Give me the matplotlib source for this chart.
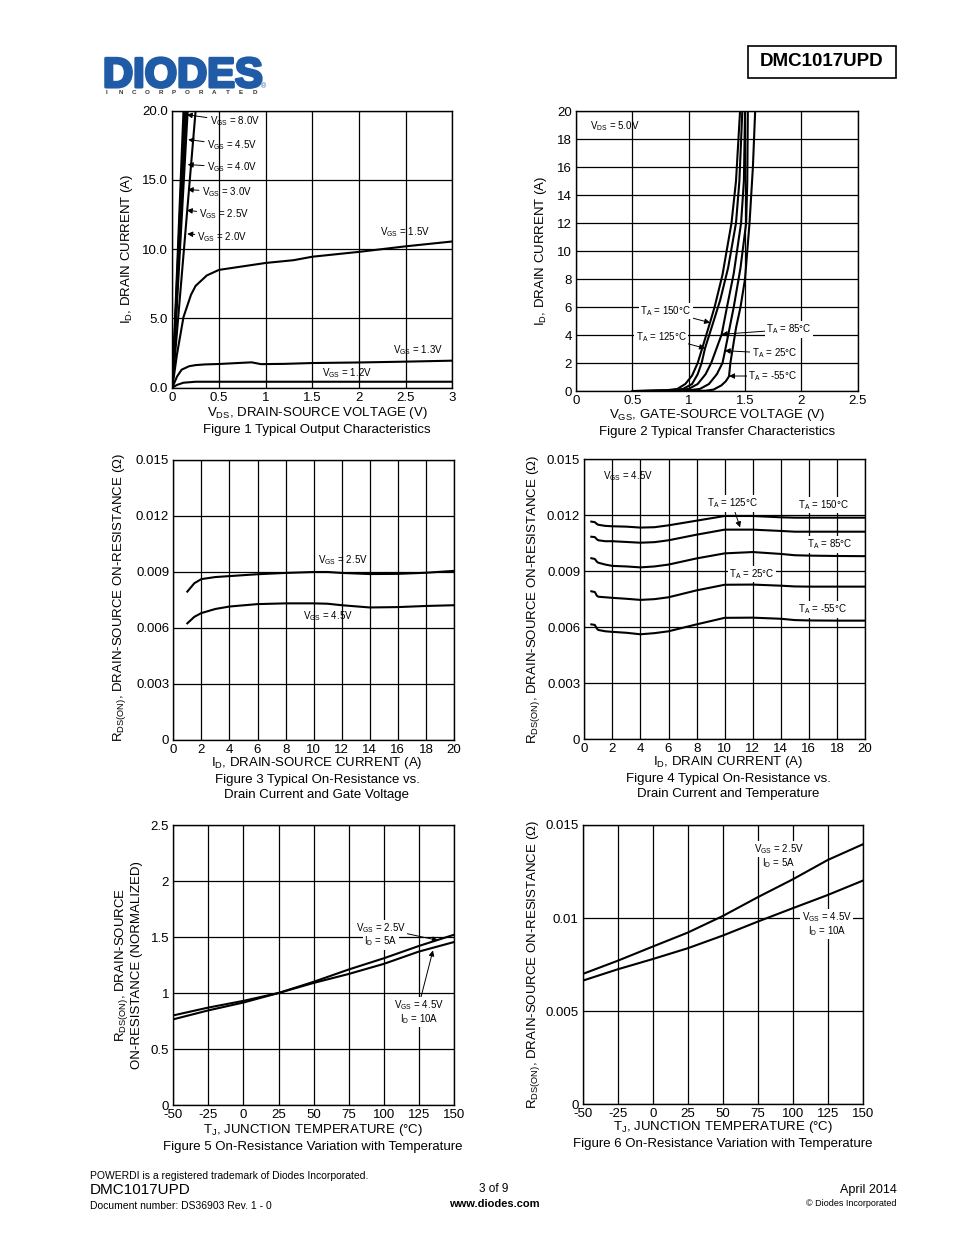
import matplotlib
matplotlib.use('Agg')
import matplotlib.pyplot as plt
import matplotlib.patheffects as pe
from matplotlib.patches import Rectangle

plt.rcParams['font.family'] = ['Liberation Sans', 'DejaVu Sans']
plt.rcParams['mathtext.default'] = 'regular'

W, H = 954, 1235

# ---------------- data ----------------
# Figure 1 - output characteristics
f1_v12_x = [0, 0.05, 0.12, 0.25, 0.5, 1.0, 2.0, 3.0]
f1_v12_y = [0, 0.2, 0.36, 0.43, 0.43, 0.43, 0.43, 0.43]
f1_v13_x = [0, 0.05, 0.1, 0.18, 0.25, 0.35, 0.5, 0.7, 0.85, 0.95, 1.2, 1.5, 2.0, 2.5, 3.0]
f1_v13_y = [0, 0.8, 1.3, 1.55, 1.63, 1.68, 1.71, 1.78, 1.83, 1.7, 1.72, 1.78, 1.82, 1.88, 1.95]
f1_v15_x = [0, 0.05, 0.12, 0.2, 0.25, 0.37, 0.5, 0.7, 1.0, 1.3, 1.5, 2.0, 2.5, 3.0]
f1_v15_y = [0, 2.4, 5.1, 6.7, 7.35, 8.1, 8.5, 8.7, 9.0, 9.2, 9.45, 9.8, 10.2, 10.55]
f1_steep_vgs = ['2.0', '2.5', '3.0', '4.0', '4.5', '8.0']
f1_steep_vend = [0.25, 0.165, 0.15, 0.14, 0.13, 0.12]

# Figure 2 - transfer characteristics
f2_temps = ['150', '125', '85', '25', '-55']
f2_vgs = [
    [0.5, 0.8, 0.9, 0.97, 1.03, 1.08, 1.19, 1.23, 1.30, 1.38, 1.42, 1.456],
    [0.55, 0.85, 0.95, 1.03, 1.08, 1.115, 1.145, 1.21, 1.28, 1.35, 1.42, 1.45, 1.476],
    [0.6, 0.9, 1.0, 1.08, 1.15, 1.20, 1.293, 1.34, 1.40, 1.465, 1.49, 1.50],
    [0.7, 1.0, 1.1, 1.18, 1.25, 1.30, 1.32, 1.40, 1.46, 1.51, 1.52, 1.525],
    [0.9, 1.15, 1.22, 1.29, 1.33, 1.358, 1.37, 1.42, 1.46, 1.50, 1.54, 1.57, 1.59],
]
f2_id = [
    [0, 0.05, 0.15, 0.5, 1.1, 2.0, 4.9, 6.0, 8.3, 12, 15, 20],
    [0, 0.05, 0.15, 0.5, 1.2, 2.0, 3.05, 4.7, 6.5, 8.8, 12, 15, 20],
    [0, 0.05, 0.15, 0.5, 1.2, 2.0, 4.05, 6.0, 8.4, 12, 15, 20],
    [0, 0.05, 0.15, 0.5, 1.2, 2.0, 2.76, 6.0, 8.8, 12, 15, 20],
    [0, 0.02, 0.1, 0.4, 0.7, 1.05, 2.0, 4.5, 6.0, 8.0, 12, 16, 20],
]

# Figure 3 - Rds(on) vs Id and Vgs
f3_id = [1, 1.5, 2, 3, 4, 6, 8, 10, 11, 12, 14, 16, 18, 20]
f3_r25 = [0.00795, 0.0084, 0.00862, 0.00873, 0.00878, 0.00888, 0.00895, 0.009, 0.009, 0.00895, 0.00889, 0.0089, 0.00896, 0.00906]
f3_r45 = [0.00625, 0.0066, 0.0068, 0.00702, 0.00715, 0.00728, 0.00732, 0.00732, 0.0073, 0.00722, 0.0071, 0.00712, 0.00718, 0.00722]

# Figure 4 - Rds(on) vs Id and temperature
f4_id = [0.5, 0.75, 0.9, 1.0, 1.5, 2, 3, 4, 5, 6, 8, 10, 12, 14, 15, 16, 18, 20]
f4_r150 = [0.01165, 0.01162, 0.01152, 0.01148, 0.01142, 0.0114, 0.01138, 0.01133, 0.01135, 0.01145, 0.0117, 0.01195, 0.01195, 0.01188, 0.01186, 0.01186, 0.01186, 0.01186]
f4_r125 = [0.01084, 0.01082, 0.0107, 0.01065, 0.0106, 0.0106, 0.01056, 0.01052, 0.01055, 0.01065, 0.01095, 0.01122, 0.01122, 0.01115, 0.01111, 0.01111, 0.01111, 0.01111]
f4_r85 = [0.00969, 0.00965, 0.0095, 0.00945, 0.00935, 0.00928, 0.00925, 0.0092, 0.00925, 0.00935, 0.00968, 0.00995, 0.01002, 0.00992, 0.00985, 0.00983, 0.00981, 0.0098]
f4_r25 = [0.00792, 0.00788, 0.00768, 0.00763, 0.0076, 0.00757, 0.00752, 0.00746, 0.0075, 0.0076, 0.00797, 0.00827, 0.00828, 0.00822, 0.00818, 0.00817, 0.00817, 0.00817]
f4_rm55 = [0.00615, 0.00612, 0.00592, 0.00585, 0.00578, 0.00575, 0.0057, 0.00562, 0.00568, 0.00578, 0.00615, 0.0065, 0.00651, 0.00645, 0.00638, 0.00636, 0.00635, 0.00635]

# Figure 5 / 6 - Rds(on) vs junction temperature
tj = [-50, -25, 0, 25, 50, 75, 100, 125, 150]
f5_n25 = [0.765, 0.845, 0.915, 1.0, 1.10, 1.21, 1.31, 1.42, 1.52]
f5_n45 = [0.80, 0.87, 0.93, 1.0, 1.09, 1.17, 1.26, 1.37, 1.455]
f6_r25 = [0.0070, 0.00771, 0.00847, 0.00922, 0.01011, 0.01112, 0.01208, 0.01312, 0.01396]
f6_r45 = [0.00664, 0.00725, 0.0078, 0.00838, 0.00906, 0.00981, 0.01053, 0.01124, 0.01201]

# ---------------- figure ----------------
fig = plt.figure(figsize=(W / 100, H / 100), dpi=100)
fig.patch.set_facecolor('white')


def axbox(l, t, r, b):
    return fig.add_axes([l / W, 1 - b / H, (r - l) / W, (b - t) / H])


def ftext(x, y, s, **kw):
    kw.setdefault('fontsize', 9.5)
    return fig.text(x / W, 1 - y / H, s, **kw)


def style(ax, xt, xl, yt, yl):
    ax.set_xticks(xt)
    ax.set_xticklabels(xl)
    ax.set_yticks(yt)
    ax.set_yticklabels(yl)
    ax.set_xlim(xt[0], xt[-1])
    ax.set_ylim(yt[0], yt[-1])
    ax.grid(True, color='black', lw=0.9)
    ax.set_axisbelow(True)
    ax.tick_params(length=0, labelsize=9.5, pad=3)
    for s in ax.spines.values():
        s.set_linewidth(1.0)


LW = 1.5
ann = dict(fontsize=7, va='center')
arr = dict(arrowstyle='-|>', color='black', lw=0.7, mutation_scale=8, shrinkA=0, shrinkB=0)
wbox = dict(boxstyle='square,pad=0.15', fc='white', ec='none')

# Figure 1
ax1 = axbox(172.3, 110.5, 452.3, 387.7)
style(ax1, [0, 0.5, 1, 1.5, 2, 2.5, 3], ['0', '0.5', '1', '1.5', '2', '2.5', '3'],
      [0, 5, 10, 15, 20], ['0.0', '5.0', '10.0', '15.0', '20.0'])
ax1.plot(f1_v12_x, f1_v12_y, color='k', lw=LW)
ax1.plot(f1_v13_x, f1_v13_y, color='k', lw=LW)
ax1.plot(f1_v15_x, f1_v15_y, color='k', lw=LW)
for v, ve in zip(f1_steep_vgs, f1_steep_vend):
    ax1.plot([0, ve], [0, 20], color='k', lw=LW)
f1_lbl = {'8.0': ((0.40, 19.2), (0.155, 19.7)), '4.5': ((0.37, 17.5), (0.17, 17.9)),
          '4.0': ((0.37, 15.9), (0.165, 16.1)), '3.0': ((0.315, 14.1), (0.165, 14.3)),
          '2.5': ((0.29, 12.5), (0.155, 12.8)), '2.0': ((0.27, 10.9), (0.16, 11.1))}
for v, (tp, tip) in f1_lbl.items():
    ax1.annotate(r'$V_{GS}$ = %sV' % v, xy=tip, xytext=tp, ha='left', arrowprops=arr, **ann)
ax1.text(2.23, 11.25, r'$V_{GS}$ = 1.5V', ha='left', **ann)
ax1.text(2.36, 2.72, r'$V_{GS}$ = 1.3V', ha='left', **ann)
ax1.text(1.60, 1.08, r'$V_{GS}$ = 1.2V', ha='left', **ann)
ftext(317, 413, r'$V_{DS}$, DRAIN-SOURCE VOLTAGE (V)', ha='center', va='center')
ftext(317, 430, 'Figure 1 Typical Output Characteristics', ha='center', va='center')
ftext(127, 249, r'$I_D$, DRAIN CURRENT (A)', ha='center', va='center', rotation=90)

# Figure 2
ax2 = axbox(576, 111, 857.7, 391)
style(ax2, [0, 0.5, 1, 1.5, 2, 2.5], ['0', '0.5', '1', '1.5', '2', '2.5'],
      list(range(0, 21, 2)), [str(v) for v in range(0, 21, 2)])
for vx, iy in zip(f2_vgs, f2_id):
    ax2.plot(vx, iy, color='k', lw=LW)
ax2.text(0.12, 18.9, r'$V_{DS}$ = 5.0V', ha='left', **ann)
f2_lbl = {'150': ((0.57, 5.71), (1.19, 4.88)), '125': ((0.53, 3.88), (1.145, 3.05)),
          '85': ((1.69, 4.4), (1.293, 4.05)), '25': ((1.56, 2.69), (1.32, 2.88)),
          '-55': ((1.53, 1.07), (1.358, 1.07))}
for t in f2_temps:
    tp, tip = f2_lbl[t]
    ax2.annotate(r'$T_A$ = %s°C' % t, xy=tip, xytext=tp, ha='left', arrowprops=arr, bbox=wbox, **ann)
ftext(717, 415, r'$V_{GS}$, GATE-SOURCE VOLTAGE (V)', ha='center', va='center')
ftext(717, 432, 'Figure 2 Typical Transfer Characteristics', ha='center', va='center')
ftext(541, 251, r'$I_D$, DRAIN CURRENT (A)', ha='center', va='center', rotation=90)

# Figure 3
ax3 = axbox(173.3, 460, 454, 740)
r_ticks = [0, 0.003, 0.006, 0.009, 0.012, 0.015]
r_lbls = ['0', '0.003', '0.006', '0.009', '0.012', '0.015']
id_ticks = list(range(0, 21, 2))
style(ax3, id_ticks, [str(v) for v in id_ticks], r_ticks, r_lbls)
ax3.plot(f3_id, f3_r25, color='k', lw=LW)
ax3.plot(f3_id, f3_r45, color='k', lw=LW)
ax3.text(10.3, 0.00964, r'$V_{GS}$ = 2.5V', ha='left', **ann)
ax3.text(9.27, 0.00666, r'$V_{GS}$ = 4.5V', ha='left', **ann)
ftext(317, 763, r'$I_D$, DRAIN-SOURCE CURRENT (A)', ha='center', va='center')
ftext(317, 780, 'Figure 3 Typical On-Resistance vs.', ha='center', va='center')
ftext(317, 795, 'Drain Current and Gate Voltage', ha='center', va='center')
ftext(120, 598, r'$R_{DS(ON)}$, DRAIN-SOURCE ON-RESISTANCE (Ω)', ha='center', va='center', rotation=90)

# Figure 4
ax4 = axbox(584.3, 459, 865, 739.3)
style(ax4, id_ticks, [str(v) for v in id_ticks], r_ticks, r_lbls)
for r in (f4_r150, f4_r125, f4_r85, f4_r25, f4_rm55):
    ax4.plot(f4_id, r, color='k', lw=LW)
ax4.text(1.31, 0.01409, r'$V_{GS}$ = 4.5V', ha='left', **ann)
ax4.annotate(r'$T_A$ = 125°C', xy=(11.1, 0.01134), xytext=(8.72, 0.01263), ha='left',
             arrowprops=arr, bbox=wbox, **ann)
ax4.text(15.25, 0.01254, r'$T_A$ = 150°C', ha='left', bbox=wbox, **ann)
ax4.text(15.9, 0.01044, r'$T_A$ = 85°C', ha='left', bbox=wbox, **ann)
ax4.text(10.33, 0.00885, r'$T_A$ = 25°C', ha='left', bbox=wbox, **ann)
ax4.text(15.25, 0.00696, r'$T_A$ = -55°C', ha='left', bbox=wbox, **ann)
ftext(728, 762, r'$I_D$, DRAIN CURRENT (A)', ha='center', va='center')
ftext(728, 779, 'Figure 4 Typical On-Resistance vs.', ha='center', va='center')
ftext(728, 794, 'Drain Current and Temperature', ha='center', va='center')
ftext(533, 600, r'$R_{DS(ON)}$, DRAIN-SOURCE ON-RESISTANCE (Ω)', ha='center', va='center', rotation=90)

# Figure 5
ax5 = axbox(173.3, 825, 454, 1105)
style(ax5, tj, [str(v) for v in tj], [0, 0.5, 1, 1.5, 2, 2.5], ['0', '0.5', '1', '1.5', '2', '2.5'])
ax5.plot(tj, f5_n25, color='k', lw=LW)
ax5.plot(tj, f5_n45, color='k', lw=LW)
ax5.annotate(r'$V_{GS}$ = 2.5V', xy=(138.6, 1.47), xytext=(80.2, 1.58), ha='left',
             arrowprops=arr, bbox=wbox, **ann)
ax5.text(86, 1.46, r'$I_D$ = 5A', ha='left', bbox=wbox, **ann)
ax5.annotate(r'$V_{GS}$ = 4.5V', xy=(135, 1.38), xytext=(107.2, 0.89), ha='left',
             arrowprops=arr, bbox=wbox, **ann)
ax5.text(111.6, 0.77, r'$I_D$ = 10A', ha='left', bbox=wbox, **ann)
ftext(313, 1130, r'$T_J$, JUNCTION TEMPERATURE (°C)', ha='center', va='center')
ftext(313, 1147, 'Figure 5 On-Resistance Variation with Temperature', ha='center', va='center')
ftext(128, 965, '$R_{DS(ON)}$, DRAIN-SOURCE\nON-RESISTANCE (NORMALIZED)', ha='center', va='center',
      rotation=90, multialignment='center', linespacing=1.15)

# Figure 6
ax6 = axbox(582.7, 825, 862.7, 1104.3)
style(ax6, tj, [str(v) for v in tj], [0, 0.005, 0.01, 0.015], ['0', '0.005', '0.01', '0.015'])
ax6.plot(tj, f6_r25, color='k', lw=LW)
ax6.plot(tj, f6_r45, color='k', lw=LW)
ax6.text(72.4, 0.01371, r'$V_{GS}$ = 2.5V', ha='left', bbox=wbox, **ann)
ax6.text(78, 0.01296, r'$I_D$ = 5A', ha='left', bbox=wbox, **ann)
ax6.text(106.6, 0.01006, r'$V_{GS}$ = 4.5V', ha='left', bbox=wbox, **ann)
ax6.text(111, 0.00931, r'$I_D$ = 10A', ha='left', bbox=wbox, **ann)
ftext(723, 1127, r'$T_J$, JUNCTION TEMPERATURE (°C)', ha='center', va='center')
ftext(723, 1144, 'Figure 6 On-Resistance Variation with Temperature', ha='center', va='center')
ftext(533, 965, r'$R_{DS(ON)}$, DRAIN-SOURCE ON-RESISTANCE (Ω)', ha='center', va='center', rotation=90)

# ---------------- page header / footer ----------------
blue = '#1f5ba6'
logo = ftext(103, 87, 'DIODES', fontsize=30, fontweight='bold', color=blue, ha='left', va='baseline')
logo.set_path_effects([pe.withStroke(linewidth=2.2, foreground=blue)])
fig.add_artist(plt.Line2D([104 / W, 212 / W], [1 - 70 / H, 1 - 70 / H], color='white', lw=1.5))
for i, ch in enumerate('INCORPORATED'):
    ftext(107 + i * 13.4, 93, ch, fontsize=4.5, fontweight='bold', color='#333333', ha='center', va='center')
ftext(264, 87, '®', fontsize=5, color=blue, ha='center', va='center')

fig.add_artist(Rectangle((748 / W, 1 - 78 / H), 148 / W, 32 / H, fill=False, ec='black', lw=1.2,
                         transform=fig.transFigure))
ftext(822, 62, 'DMC1017UPD', fontsize=13.5, fontweight='bold', ha='center', va='center')

ftext(90, 1176, 'POWERDI is a registered trademark of Diodes Incorporated.', fontsize=7.5, ha='left', va='center')
ftext(90, 1190, 'DMC1017UPD', fontsize=11, ha='left', va='center')
ftext(90, 1206, 'Document number: DS36903 Rev. 1 - 0', fontsize=7.5, ha='left', va='center')
ftext(494, 1189, '3 of 9', fontsize=8.5, ha='center', va='center')
ftext(494, 1204, 'www.diodes.com', fontsize=8, fontweight='bold', ha='center', va='center')
ftext(897, 1190, 'April 2014', fontsize=9, ha='right', va='center')
ftext(897, 1204, '© Diodes Incorporated', fontsize=6.5, ha='right', va='center')

fig.savefig('out.png', dpi=100, facecolor='white')
